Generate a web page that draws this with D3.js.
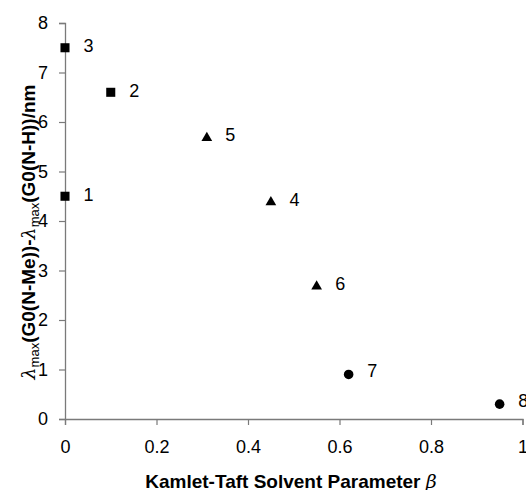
<!DOCTYPE html>
<html><head><meta charset="utf-8">
<script src="https://cdn.jsdelivr.net/npm/d3@7"></script>
<style>body{margin:0;background:#fff}svg{display:block}text{font-family:Arial,"Liberation Sans",sans-serif}</style>
</head><body>
<svg id="c" width="526" height="490"></svg>
<script>
const labels = ["1","2","3","4","5","6","7","8"];
const betaValues = [0, 0.10, 0, 0.45, 0.31, 0.55, 0.62, 0.95];
const shiftValues = [4.5, 6.6, 7.5, 4.4, 5.7, 2.7, 0.9, 0.3];
const markerShapes = ["square","square","square","triangle","triangle","triangle","circle","circle"];
const xTicks = [0, 0.2, 0.4, 0.6, 0.8, 1];
const yTicks = [0,1,2,3,4,5,6,7,8];

const svg = d3.select("#c");
const x = d3.scaleLinear().domain([0,1]).range([65,522.5]);
const y = d3.scaleLinear().domain([0,8]).range([419,23]);
const axisColor = "#7a7a7a";

const xa = svg.append("g").attr("transform","translate(0,"+y(0)+")")
  .call(d3.axisBottom(x).tickValues(xTicks).tickSize(6).tickFormat(d=>d));
const ya = svg.append("g").attr("transform","translate("+x(0)+",0)")
  .call(d3.axisLeft(y).tickValues(yTicks).tickSize(6).tickFormat(d=>d));
[xa,ya].forEach(a=>{
  a.select(".domain").attr("stroke",axisColor).attr("stroke-width",1.3);
  a.selectAll(".tick line").attr("stroke",axisColor).attr("stroke-width",1.2);
  a.selectAll("text").attr("font-size",18).attr("fill","#000").attr("font-family","Arial, 'Liberation Sans', sans-serif");
});
xa.selectAll("text").attr("dy",null).attr("y",34);
ya.selectAll("text").attr("dx","-8");

const symT = {square:d3.symbolSquare, triangle:d3.symbolTriangle, circle:d3.symbolCircle};
const symS = {square:82, triangle:50, circle:72};
labels.forEach((l,i)=>{
  const px = x(betaValues[i]), py = y(shiftValues[i]);
  svg.append("path").attr("d", d3.symbol().type(symT[markerShapes[i]]).size(symS[markerShapes[i]])())
    .attr("transform","translate("+px+","+(py+(markerShapes[i]==="triangle"?1:0))+")").attr("fill","#000");
  svg.append("text").attr("x",px+18.5).attr("y",py+(markerShapes[i]==="circle"?2.5:4.5)).attr("font-size",18).text(l);
});

svg.append("text").attr("x",291).attr("y",488).attr("text-anchor","middle")
  .attr("font-size",19).attr("font-weight","bold")
  .call(t=>{t.append("tspan").text("Kamlet-Taft Solvent Parameter ");
            t.append("tspan").attr("font-style","italic").attr("font-weight","normal").attr("font-family","'DejaVu Serif', serif").text("β");});

const yt = svg.append("text").attr("transform","translate(35,232) rotate(-90)")
  .attr("text-anchor","middle").attr("font-size",19).attr("font-weight","bold");
yt.append("tspan").attr("font-style","italic").attr("font-weight","normal").attr("font-family","'DejaVu Serif', serif").text("λ");
yt.append("tspan").attr("font-size",13).attr("font-weight","normal").attr("dy",4).text("max");
yt.append("tspan").attr("dy",-4).text("(G0(N-Me))-");
yt.append("tspan").attr("font-style","italic").attr("font-weight","normal").attr("font-family","'DejaVu Serif', serif").text("λ");
yt.append("tspan").attr("font-size",13).attr("font-weight","normal").attr("dy",4).text("max");
yt.append("tspan").attr("dy",-4).text("(G0(N-H))/nm");
</script>
</body></html>
